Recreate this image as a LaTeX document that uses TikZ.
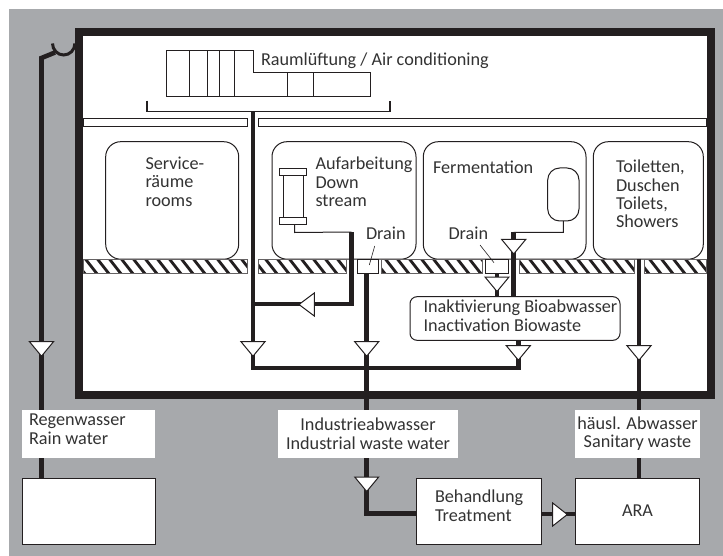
\documentclass[tikz,border=0pt]{standalone}
\usepackage{fontspec}
\setmainfont{Carlito}
\usetikzlibrary{calc}
\definecolor{bggray}{HTML}{A7A9AC}
\definecolor{ink}{HTML}{231F20}
\definecolor{txt}{HTML}{333333}
\tikzset{
  thin line/.style={draw=ink,line width=1pt},
  pipe/.style={draw=ink,line width=4.6pt,line join=miter},
  wall/.style={draw=ink,line width=8pt},
  room/.style={draw=ink,line width=1pt,fill=white,rounded corners=15pt,inner sep=0pt,outer sep=0pt},
  plainbox/.style={draw=ink,line width=1pt,fill=white,inner sep=0pt,outer sep=0pt},
  labelbox/.style={fill=white,inner sep=0pt,outer sep=0pt},
  lab/.style={font=\fontsize{18.2}{18.4}\selectfont,text=txt,inner sep=0pt,outer sep=0pt,align=left},
  valve/.style={draw=ink,line width=1pt,fill=white,line join=miter},
}
\newcommand{\hatchbar}[2]{%
  \begin{scope}
    \clip (#1,259.5) rectangle (#2,273.5);
    \fill[white] (#1,259.5) rectangle (#2,273.5);
    \foreach \hx in {0,12,...,700}{
      \fill[ink] (\hx,259.5) -- (\hx+3.6,259.5) -- (\hx+14.6,273.5) -- (\hx+11,273.5) -- cycle;
    }
  \end{scope}
  \draw[draw=ink!70,line width=0.8pt] (#1,259.5) rectangle (#2,273.5);
}
\newcommand{\valvedown}[3]{\coordinate (#1) at (#2,#3);
  \draw[valve] ($(#1)+(-12,0)$) -- ($(#1)+(12,0)$) -- ($(#1)+(0,14.5)$) -- cycle;}
\begin{document}
\begin{tikzpicture}[x=1pt,y=-1pt]
\useasboundingbox (0,0) rectangle (723,556);
\fill[bggray] (9,9) rectangle (723,556);
% coordinates
\coordinate (rainTop) at (41.5,58);
\coordinate (rainKink) at (55,52.5);
\coordinate (hoopL) at (52.5,43.5);
% frame
\draw[wall,fill=white] (79.3,32) rectangle (711,395);
% ceiling bars
\node[plainbox,minimum width=164.7pt,minimum height=7.7pt,anchor=north west] (barL) at (83,119) {};
\node[plainbox,minimum width=448pt,minimum height=7.7pt,anchor=north west] (barR) at (258.7,119) {};
% rooms
\node[room,minimum width=133pt,minimum height=117.5pt,anchor=north west] (service) at (105.7,141.7) {};
\node[room,minimum width=144pt,minimum height=117.5pt,anchor=north west] (aufarb) at (272,141.7) {};
\node[room,minimum width=162.7pt,minimum height=117.5pt,anchor=north west] (ferm) at (423.3,141.7) {};
\node[room,minimum width=110pt,minimum height=117.5pt,anchor=north west] (toil) at (593.3,141.7) {};
% air unit
\draw[thin line,fill=white] (166,51) -- (253.5,51) -- (253.5,73) -- (370.5,73) -- (370.5,96.3) -- (166,96.3) -- cycle;
\foreach \dx in {189,207.7,219.3,234.3}{\draw[thin line] (\dx,51) -- (\dx,96.3);}
\foreach \dx in {287.3,313.7}{\draw[thin line] (\dx,73) -- (\dx,96.3);}
% bracket
\coordinate (brL) at (147,100.7);
\coordinate (brR) at (390,100.7);
\coordinate (brM) at (253,111.5);
\draw[draw=ink,line width=1.7pt] (brL) |- (brM) -| (brR);
% floor
\hatchbar{83}{247.7}
\hatchbar{258.7}{346}
\hatchbar{381.7}{482}
\hatchbar{519.3}{634}
\hatchbar{644}{706.7}
\node[plainbox,minimum width=21.3pt,minimum height=14.5pt,anchor=north west] (drainA) at (357,259.3) {};
\node[plainbox,minimum width=22.6pt,minimum height=14.5pt,anchor=north west] (drainB) at (485.7,259.3) {};
% column
\node[plainbox,minimum width=27.4pt,minimum height=7.4pt] (capT) at (293,172) {};
\node[plainbox,minimum width=27.4pt,minimum height=7.4pt] (capB) at (293,221.3) {};
\draw[thin line,fill=white] (capT.south -| 283.7,0) rectangle (capB.north -| 303,0);
% tank
\node[plainbox,rounded corners=12pt,minimum width=31.3pt,minimum height=53pt,anchor=north west] (tank) at (547.7,168) {};
% buffer box and process
\node[room,rounded corners=7pt,minimum width=210pt,minimum height=43.6pt,anchor=north west] (inakt) at (410,296.7) {};
% bottom boxes
\node[plainbox,minimum width=132.5pt,minimum height=66pt,anchor=north west] (rainT) at (22.5,478.3) {};
\node[plainbox,minimum width=125pt,minimum height=66pt,anchor=north west] (treat) at (416.7,478.3) {};
\node[plainbox,minimum width=123.6pt,minimum height=66pt,anchor=north west] (ara) at (575.7,478.3) {};
% pipes
\draw[pipe] (rainT.north -| rainTop) -- (rainTop) -- (rainKink);
\draw[draw=ink,line width=3pt] (hoopL) arc[start angle=180,end angle=360,x radius=11.2pt,y radius=11.5pt];
\coordinate (dwnSplit) at (253,304);
\coordinate (dwnBottom) at (253,368);
\coordinate (bioBottom) at (518.3,368);
\coordinate (auKnee) at (351.3,304);
\coordinate (auTop) at (351.3,232);
\draw[pipe] (brM) -- (dwnBottom) -- (bioBottom) -- (inakt.south -| bioBottom);
\draw[pipe] (dwnSplit) -- (auKnee) -- (auTop);
\coordinate (indKnee) at (366.7,513.5);
\draw[pipe] (drainA.south -| indKnee) -- (indKnee) -- (treat.west |- indKnee);
\coordinate (fermTop) at (513.7,232);
\draw[pipe] (fermTop) -- (inakt.north -| fermTop);
\draw[pipe] (drainB.south) -- (inakt.north -| drainB.south);
\coordinate (toilX) at (639,259);
\draw[pipe] (toilX) -- (ara.north -| toilX);
\coordinate (araIn) at (575.7,514);
\draw[pipe] (treat.east |- araIn) -- (araIn);
% thin connectors
\coordinate (auKneeThin) at (294.7,232.5);
\draw[thin line] (capB.south -| auKneeThin) -- (auKneeThin) -- (auTop);
\coordinate (tankKnee) at (563.3,232.5);
\draw[thin line] (tank.south) -- (tankKnee) -- (fermTop |- tankKnee);
% valves
\valvedown{vRain}{41.5}{341.7}
\valvedown{vDwn}{253}{341.7}
\valvedown{vInd}{366.7}{341.7}
\valvedown{vBio}{518.3}{345.7}
\valvedown{vToil}{639}{345.7}
\valvedown{vFerm}{513.7}{239.5}
\valvedown{vDrain}{497}{277}
\valvedown{vTreat}{366.7}{477}
\coordinate (vAu) at (299,304.5);
\draw[valve] (vAu) -- ($(vAu)+(15.3,-11.5)$) -- ($(vAu)+(15.3,11.5)$) -- cycle;
\coordinate (vAra) at (552.7,514.5);
\draw[valve] ($(vAra)+(0,-11.5)$) -- ($(vAra)+(14.6,0)$) -- ($(vAra)+(0,11.5)$) -- cycle;
% white labels
\node[labelbox,minimum width=133pt,minimum height=47.7pt,anchor=north west] (lblRain) at (22,410) {};
\node[labelbox,minimum width=180pt,minimum height=47.7pt,anchor=north west] (lblInd) at (278,410) {};
\node[labelbox,minimum width=125pt,minimum height=47.7pt,anchor=north west] (lblSan) at (575,410) {};
% leaders
\coordinate (drA1) at (374.7,246);
\coordinate (drB1) at (480,245);
\draw[draw=ink,line width=0.6pt] (drA1) -- (369.3,265);
\draw[draw=ink,line width=0.6pt] (drB1) -- (494,262.7);
% text
\node[lab,anchor=base west] (tAir) at (261,66) {Raumlüftung / Air conditioning};
\node[lab,anchor=north west] (tServ) at (145.5,157) {Service-\\räume\\rooms};
\node[lab,anchor=north west] (tAuf) at (315.5,157) {Aufarbeitung\\Down\\stream};
\node[lab,anchor=base west] (tDrA) at (366,240) {Drain};
\node[lab,anchor=base west] (tFer) at (433,174) {Fermentation};
\node[lab,anchor=base west] (tDrB) at (448.5,240) {Drain};
\node[lab,anchor=north west] (tToil) at (616,160) {Toiletten,\\Duschen\\Toilets,\\Showers};
\node[lab,anchor=north west] (tInak) at (423.5,300) {Inaktivierung Bioabwasser\\Inactivation Biowaste};
\node[lab,anchor=north west] (tRain) at (29,414) {Regenwasser\\Rain water};
\node[lab,align=center,anchor=center] (tInd) at (lblInd.center) {Industrieabwasser\\Industrial waste water};
\node[lab,align=center,anchor=center] (tSan) at (lblSan.center) {häusl. Abwasser\\Sanitary waste};
\node[lab,anchor=north west] (tTre) at (435,490) {Behandlung\\Treatment};
\node[lab] (tAra) at ($(ara.center)+(0,-1)$) {ARA};
\end{tikzpicture}
\end{document}
